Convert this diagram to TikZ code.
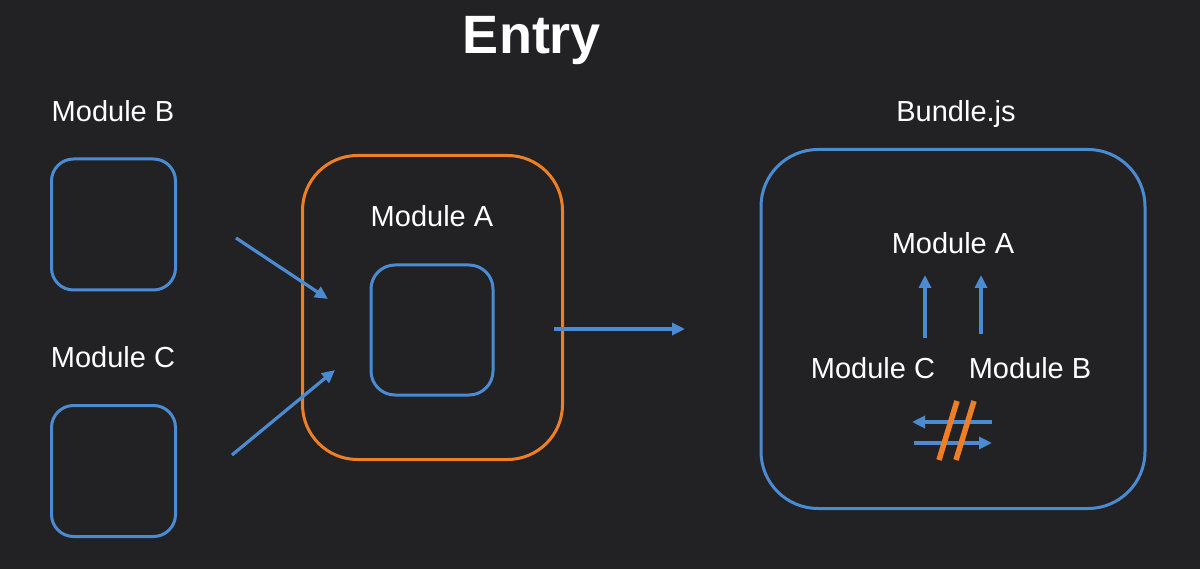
\documentclass[tikz,border=0pt]{standalone}
\usepackage{fontspec}
\setmainfont{Liberation Sans}
\usetikzlibrary{arrows.meta}
\definecolor{bg}{HTML}{222124}
\definecolor{mblue}{HTML}{4A8BD2}
\definecolor{morange}{HTML}{EE7F26}
\tikzset{
  lbl/.style={text=white, font=\fontsize{29}{34}\selectfont, anchor=base, inner sep=0pt},
  bbox/.style={draw=mblue, line width=3pt, rounded corners=#1, inner sep=0pt},
  obox/.style={draw=morange, line width=3pt, rounded corners=#1, inner sep=0pt},
  arr/.style={draw=mblue, line width=3.2pt, -{Triangle[length=13pt,width=12pt]}},
  slash/.style={draw=morange, line width=5.5pt}
}
\begin{document}
\begin{tikzpicture}[x=1pt,y=-1pt]
\fill[bg] (0,0) rectangle (1200,569);
\useasboundingbox (0,0) rectangle (1200,569);
% title
\node[text=white, font=\bfseries\fontsize{54}{60}\selectfont, anchor=base, inner sep=0pt] (title) at (532,54) {Entry};
% left modules
\node[lbl] (lb) at (113,122) {Module B};
\node[bbox=22pt, minimum width=124pt, minimum height=131pt] (boxB) at (113.5,224.5) {};
\node[lbl] (lc) at (113,368) {Module C};
\node[bbox=22pt, minimum width=124pt, minimum height=131pt] (boxC) at (113.5,471) {};
% entry box
\node[obox=55pt, minimum width=260pt, minimum height=304pt] (entry) at (432.5,307.5) {};
\node[lbl] (la) at (432,227) {Module A};
\node[bbox=24pt, minimum width=122pt, minimum height=130pt] (inner) at (432,330) {};
% arrows into entry
\coordinate (b1) at (236,238);
\coordinate (b2) at (328,299);
\coordinate (c1) at (232,455);
\coordinate (c2) at (335,370);
\draw[arr] (b1) -- (b2);
\draw[arr] (c1) -- (c2);
\coordinate (e1) at (554,329);
\coordinate (e2) at (685,329);
\draw[arr] (e1) -- (e2);
% bundle
\node[lbl] (lbundle) at (956,122) {Bundle.js};
\node[bbox=57pt, minimum width=384pt, minimum height=359pt] (bundle) at (953,329) {};
\node[lbl] (ba) at (953,254) {Module A};
\node[lbl] (bc) at (873,378) {Module C};
\node[lbl] (bb) at (1030,378) {Module B};
\coordinate (u1s) at (925,338);
\coordinate (u1e) at (925,275);
\coordinate (u2s) at (981,334);
\coordinate (u2e) at (981,275);
\draw[arr] (u1s) -- (u1e);
\draw[arr] (u2s) -- (u2e);
\coordinate (h1s) at (992,422);
\coordinate (h1e) at (912,422);
\coordinate (h2s) at (914,443);
\coordinate (h2e) at (992,443);
\draw[arr] (h1s) -- (h1e);
\draw[arr] (h2s) -- (h2e);
\coordinate (s1a) at (939,460);
\coordinate (s1b) at (957,401);
\coordinate (s2a) at (956,460);
\coordinate (s2b) at (974,401);
\draw[slash] (s1a) -- (s1b);
\draw[slash] (s2a) -- (s2b);
\end{tikzpicture}
\end{document}
